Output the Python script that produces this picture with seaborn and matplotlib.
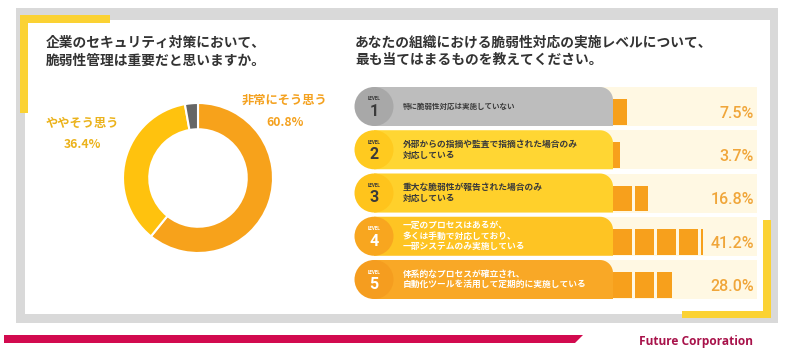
import numpy as np
import seaborn as sns
import matplotlib.pyplot as plt
from matplotlib.patches import Rectangle, Circle, Polygon, PathPatch
from matplotlib.path import Path

# donut: 企業のセキュリティ対策において、脆弱性管理は重要だと思いますか。
donut_labels = ['非常にそう思う', 'ややそう思う', 'その他']
donut_values = [60.8, 36.4, 2.8]
donut_colors = ['#F7A21B', '#FFC20E', '#666666']
donut_text_colors = ['#F4A11E', '#EBB21A']

# level rows: 脆弱性対応の実施レベル
levels = ['1', '2', '3', '4', '5']
level_texts = [
    '特に脆弱性対応は実施していない',
    '外部からの指摘や監査で指摘された場合のみ\n対応している',
    '重大な脆弱性が報告された場合のみ\n対応している',
    '一定のプロセスはあるが、\n多くは手動で対応しており、\n一部システムのみ実施している',
    '体系的なプロセスが確立され、\n自動化ツールを活用して定期的に実施している',
]
level_values = [7.5, 3.7, 16.8, 41.2, 28.0]
pill_colors = ['#BDBDBD', '#FFD633', '#FFD02B', '#FEC423', '#F9A826']
circle_colors = ['#A8A8A8', '#FFCA1F', '#FFC41C', '#F8A61F', '#F59D1F']
text_colors = ['#3a3a3a', '#3a3a3a', '#3a3a3a', 'white', 'white']

left_title = '企業のセキュリティ対策において、\n脆弱性管理は重要だと思いますか。'
right_title = 'あなたの組織における脆弱性対応の実施レベルについて、\n最も当てはまるものを教えてください。'

sns.set_theme(style='white')
plt.rcParams['font.family'] = ['Noto Sans CJK JP', 'DejaVu Sans']

W, H = 800, 356
fig = plt.figure(figsize=(W / 100, H / 100), dpi=100)
ax = fig.add_axes([0, 0, 1, 1])
ax.set_xlim(0, W)
ax.set_ylim(H, 0)
ax.axis('off')

# frame and accents
ax.add_patch(Rectangle((16, 8), 762, 315, color='#D9D9D9', lw=0))
ax.add_patch(Rectangle((25, 20), 745, 294, color='white', lw=0))
yellow = '#FBD233'
ax.add_patch(Rectangle((20, 15), 90, 8, color=yellow, lw=0))
ax.add_patch(Rectangle((20, 15), 8, 98, color=yellow, lw=0))
ax.add_patch(Rectangle((763, 220), 8, 98, color=yellow, lw=0))
ax.add_patch(Rectangle((682, 311), 89, 7, color=yellow, lw=0))

# bottom band + logo
ax.add_patch(Polygon([(4, 335), (583, 335), (575, 343), (4, 343)], color='#D20A4F', lw=0))
ax.text(753, 341, 'Future Corporation', ha='right', va='center', fontsize=8.6,
        family='Open Sans', weight='bold', color='#A8124A')

# titles
ax.text(46, 52, left_title, ha='left', va='center', fontsize=9.9, color='#333333',
        weight='bold', linespacing=1.3)
ax.text(355, 51, right_title, ha='left', va='center', fontsize=9.9, color='#333333',
        weight='bold', linespacing=1.3)

# donut
dax = fig.add_axes([123 / W, 1 - 253 / H, 150 / W, 150 / H])
dax.pie(donut_values, colors=donut_colors, startangle=90, counterclock=False,
        wedgeprops=dict(width=0.35, edgecolor='white', linewidth=1.5))
dax.set_xlim(-1, 1)
dax.set_ylim(-1, 1)
dax.set_aspect('equal')
dax.axis('off')

ax.text(285, 100, donut_labels[0], ha='center', va='center', fontsize=8.8,
        color=donut_text_colors[0], weight='bold')
ax.text(285, 123, f'{donut_values[0]:.1f}%', ha='center', va='center', fontsize=8.8,
        color=donut_text_colors[0], weight='bold')
ax.text(82, 123, donut_labels[1], ha='center', va='center', fontsize=8.8,
        color=donut_text_colors[1], weight='bold')
ax.text(82, 145, f'{donut_values[1]:.1f}%', ha='center', va='center', fontsize=8.8,
        color=donut_text_colors[1], weight='bold')

# level rows (decoration in pixel space)
row_top0, row_pitch, row_h = 87, 43.25, 39
pill_l, pill_r, strip_r, r_corner = 374, 613, 757, 13


def pill_path(top):
    arc = np.linspace(np.pi / 2, 0, 12)
    cx, cy = pill_r - r_corner, top + r_corner
    pts = [(pill_l, top + row_h), (pill_l, top)]
    pts += [(cx + r_corner * np.cos(a), cy - r_corner * np.sin(a)) for a in arc]
    pts += [(pill_r, top + row_h), (pill_l, top + row_h)]
    return Path(pts, closed=True)


for i in range(len(levels)):
    top = row_top0 + row_pitch * i
    cy = top + row_h / 2
    ax.add_patch(Rectangle((pill_l, top), strip_r - pill_l, row_h, color='#FFF8E3', lw=0))
    ax.add_patch(PathPatch(pill_path(top), color=pill_colors[i], lw=0))
    ax.add_patch(Circle((pill_l, cy), row_h / 2, color=circle_colors[i], lw=0))
    ax.text(pill_l, cy - 7.5, 'LEVEL', ha='center', va='center', fontsize=3.3,
            family='Roboto', weight='bold', color=text_colors[i])
    ax.text(pill_l, cy + 5, levels[i], ha='center', va='center', fontsize=11.5,
            family='Roboto', weight='bold', color=text_colors[i])
    ax.text(403, cy, level_texts[i], ha='left', va='center',
            fontsize=5.4 if i == 0 else 6.3, linespacing=1.2,
            color=text_colors[i], weight='bold')
    ax.text(754, cy + 7, f'{level_values[i]:.1f}%', ha='right', va='center',
            fontsize=11.5, family='Roboto', weight='medium', color='#F0A63A')

# block bars: one block per 10 %
px_per_pct = 2.2
bax = fig.add_axes([pill_r / W, 1 - (row_top0 - (row_pitch - row_h) / 2 + 5 * row_pitch) / H,
                    (strip_r - pill_r) / W, 5 * row_pitch / H])
bax.set_xlim(0, (strip_r - pill_r) / px_per_pct)
bax.set_ylim(len(levels) - 0.5, -0.5)
bax.set_facecolor('none')
bax.axis('off')
block_frac = 19 / 22
for i, v in enumerate(level_values):
    for k in range(int(np.ceil(v / 10))):
        w = min(10, v - 10 * k)
        bax.barh(i + 0.127, w * block_frac, left=10 * k, height=0.6,
                 color='#F7A01C', lw=0)

fig.savefig('out.png', dpi=100)
